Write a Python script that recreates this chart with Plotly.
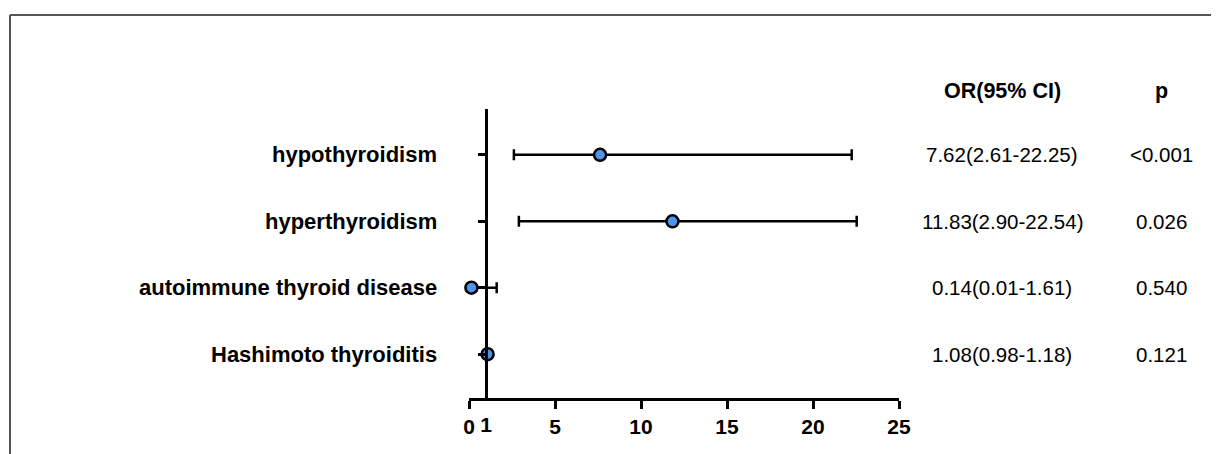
import plotly.graph_objects as go

# ---- data ----
conditions = ["hypothyroidism", "hyperthyroidism", "autoimmune thyroid disease", "Hashimoto thyroiditis"]
odds_ratio = [7.62, 11.83, 0.14, 1.08]
ci_lower = [2.61, 2.90, 0.01, 0.98]
ci_upper = [22.25, 22.54, 1.61, 1.18]
or_text = ["7.62(2.61-22.25)", "11.83(2.90-22.54)", "0.14(0.01-1.61)", "1.08(0.98-1.18)"]
p_text = ["<0.001", "0.026", "0.540", "0.121"]
x_tickvals = [0, 5, 10, 15, 20, 25]
x_ticktext = ["0", "5", "10", "15", "20", "25"]
ref_value = [1]
ref_text = ["1"]
header_or = "OR(95% CI)"
header_p = "p"

# ---- layout constants (page body has an 8px margin) ----
OFF = 8
W, H = 1219 - OFF, 454 - OFF
ML, MR, MT, MB = 469 - OFF, 320, 109 - OFF, 56
PW = W - ML - MR
PH = H - MT - MB
XR = [0, 25]
YR = [-0.66, 3.69]

def px_x(px):
    # px is a screenshot pixel column
    return (px - OFF - ML) / PW

def px_y(py):
    return (H - MB - (py - OFF)) / PH

n = len(conditions)
ypos = [n - 1 - i for i in range(n)]

font_family = "Liberation Sans, Arial, sans-serif"

fig = go.Figure()
fig.add_trace(go.Scatter(
    x=odds_ratio, y=ypos, mode="markers",
    marker=dict(size=12, color="#4f94ea", line=dict(color="black", width=2.5)),
    error_x=dict(type="data", symmetric=False,
                 array=[u - o for u, o in zip(ci_upper, odds_ratio)],
                 arrayminus=[o - l for o, l in zip(odds_ratio, ci_lower)],
                 color="black", thickness=2.5, width=5.5),
    cliponaxis=False, showlegend=False, hoverinfo="skip",
))
# invisible trace for the secondary x axis carrying the "1" label
fig.add_trace(go.Scatter(x=ref_value, y=[ypos[-1]], xaxis="x2", mode="markers",
                         marker=dict(opacity=0), showlegend=False, hoverinfo="skip"))

annotations = []
for i in range(n):
    annotations.append(dict(x=px_x(439), xref="paper", y=ypos[i], yref="y",
                            text=conditions[i], showarrow=False, xanchor="right",
                            font=dict(family=font_family, size=22, color="black", weight=700)))
    annotations.append(dict(x=px_x(1002), xref="paper", y=ypos[i], yref="y",
                            text=or_text[i], showarrow=False, xanchor="center",
                            font=dict(family=font_family, size=20.5, color="black")))
    annotations.append(dict(x=px_x(1161), xref="paper", y=ypos[i], yref="y",
                            text=p_text[i], showarrow=False, xanchor="center",
                            font=dict(family=font_family, size=20.5, color="black")))
annotations.append(dict(x=px_x(1002), xref="paper", y=px_y(91), yref="paper",
                        text=header_or, showarrow=False, xanchor="center", yanchor="middle",
                        font=dict(family=font_family, size=21.5, color="black", weight=700)))
annotations.append(dict(x=px_x(1161), xref="paper", y=px_y(91), yref="paper",
                        text=header_p, showarrow=False, xanchor="center", yanchor="middle",
                        font=dict(family=font_family, size=21.5, color="black", weight=700)))

shapes = [
    dict(type="line", xref="paper", yref="paper", x0=px_x(10), x1=px_x(1219 + 20), y0=px_y(15), y1=px_y(15),
         line=dict(color="#555555", width=2)),
    dict(type="line", xref="paper", yref="paper", x0=px_x(10), x1=px_x(10), y0=px_y(15), y1=px_y(454 + 20),
         line=dict(color="#555555", width=2)),
]

fig.update_layout(
    width=W, height=H,
    margin=dict(l=ML, r=MR, t=MT, b=MB, pad=0),
    paper_bgcolor="white", plot_bgcolor="white",
    showlegend=False,
    annotations=annotations, shapes=shapes,
    xaxis=dict(range=XR, tickvals=x_tickvals, ticktext=x_ticktext,
               showline=True, linecolor="black", linewidth=2.8,
               ticks="outside", ticklen=8, tickwidth=2.5, tickcolor="black",
               showgrid=False, zeroline=False,
               tickfont=dict(family=font_family, size=21, color="black", weight=700)),
    xaxis2=dict(range=XR, overlaying="x", anchor="y", side="bottom",
                tickvals=ref_value, ticktext=ref_text, ticks="outside", ticklen=8,
                tickcolor="rgba(0,0,0,0)", tickwidth=2.5,
                showline=False, showgrid=False, zeroline=False,
                tickfont=dict(family=font_family, size=21, color="black", weight=700)),
    yaxis=dict(range=YR, anchor="free", position=(ref_value[0] - XR[0]) / (XR[1] - XR[0]),
               tickvals=ypos, showticklabels=False,
               showline=True, linecolor="black", linewidth=2.8,
               ticks="outside", ticklen=7, tickwidth=2.5, tickcolor="black",
               showgrid=False, zeroline=False),
)

fig.write_html("out.html")
